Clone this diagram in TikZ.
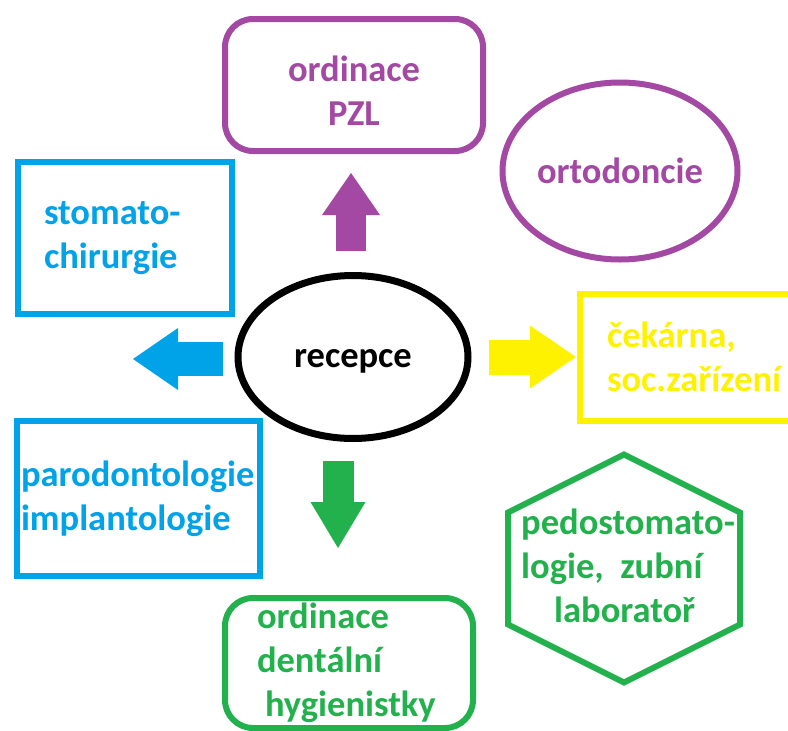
\documentclass[tikz,border=0pt]{standalone}
\usepackage{fontspec}
\setmainfont{Carlito}
\usetikzlibrary{arrows.meta,shapes.geometric,calc}
\definecolor{pzlpurple}{HTML}{A349A4}
\definecolor{chirblue}{HTML}{00A2E8}
\definecolor{cekyellow}{HTML}{FFF200}
\definecolor{hyggreen}{HTML}{22B14C}
\hyphenpenalty=10000

\begin{document}
\begin{tikzpicture}[x=1pt,y=-1pt,
    every node/.style={font=\fontsize{36.5}{44}\selectfont\bfseries},
    room/.style={draw=#1, text=#1, line width=6pt},
    bigarrow/.style={draw=#1, line width=31pt, -{Triangle[length=42pt,width=58pt,line width=0pt,fill=#1]}}]
  \clip (0,0) rectangle (788,731);
  \fill[white] (0,0) rectangle (788,731);

  % reception in the middle
  \node[room=black, ellipse, line width=7pt, inner sep=0pt, text height=24pt, text depth=4pt,
        minimum width=230pt, minimum height=163pt] (recepce) at (353,357) {recepce};

  % rooms round it
  \node[room=pzlpurple, rectangle, rounded corners=28pt,
        minimum width=258pt, minimum height=132pt] (pzl) at (354,85) {};
  \node[align=center, text=pzlpurple] (pzltext) at (354,90.5) {ordinace\\PZL};
  \node[room=pzlpurple, ellipse, inner sep=0pt,
        minimum width=235pt, minimum height=177pt] (orto) at (620,171) {ortodoncie};
  \node[room=chirblue, rectangle, align=left, inner xsep=26pt, text width=162pt,
        minimum width=214pt, minimum height=152pt] (stom) at (125,238) {stomato-\\chirurgie};
  \node[room=cekyellow, rectangle, align=left, inner xsep=27pt, text width=186pt,
        minimum width=240pt, minimum height=127pt] (cek) at (700,357) {čekárna,\\soc.zařízení};
  \node[room=chirblue, rectangle, align=left, inner xsep=4pt, text width=235pt,
        minimum width=243pt, minimum height=155pt] (paro) at (138.5,498.5) {parodontologie\\implantologie};
  \node[room=hyggreen, rectangle, rounded corners=28pt, align=left, inner xsep=32pt,
        inner ysep=0pt, text width=184pt,
        minimum width=248pt, minimum height=130pt] (hyg) at (349,663)
        {ordinace\\dentální\\\hspace*{8pt}hygienistky};

  % hexagon
  \coordinate (hexc) at (624,568.5);
  \draw[hyggreen, line width=6pt, line join=miter]
    ($(hexc)+(0,-114)$) -- ($(hexc)+(116,-56)$) -- ($(hexc)+(116,56)$)
    -- ($(hexc)+(0,114)$) -- ($(hexc)+(-116,56)$) -- ($(hexc)+(-116,-56)$) -- cycle;
  \node[anchor=west, inner sep=0pt, align=left, text=hyggreen] (pedo) at (521,566)
    {pedostomato-\\logie,~ zubní\\\hspace*{33pt}laboratoř};

  % arrows
  \coordinate (leftend) at (133,359);
  \draw[bigarrow=pzlpurple, line width=30pt, shorten <=21pt, shorten >=19pt]
    ([xshift=-2pt]recepce.north) -- ([xshift=-3pt]pzl.south);
  \draw[bigarrow=chirblue, line width=34pt, shorten <=12pt,
        -{Triangle[length=45pt,width=62pt,line width=0pt,fill=chirblue]}]
    ([yshift=-2pt]recepce.west) -- (leftend);
  \draw[bigarrow=cekyellow, line width=35pt, shorten <=17pt, shorten >=1pt,
        -{Triangle[length=46pt,width=63pt,line width=0pt,fill=cekyellow]}]
    (recepce.east) -- (cek.west);
  \draw[bigarrow=hyggreen, shorten <=19pt, shorten >=47pt,
        -{Triangle[length=46pt,width=55pt,line width=0pt,fill=hyggreen]}]
    ([xshift=-15pt]recepce.south) -- ([xshift=-11pt]hyg.north);
\end{tikzpicture}
\end{document}
